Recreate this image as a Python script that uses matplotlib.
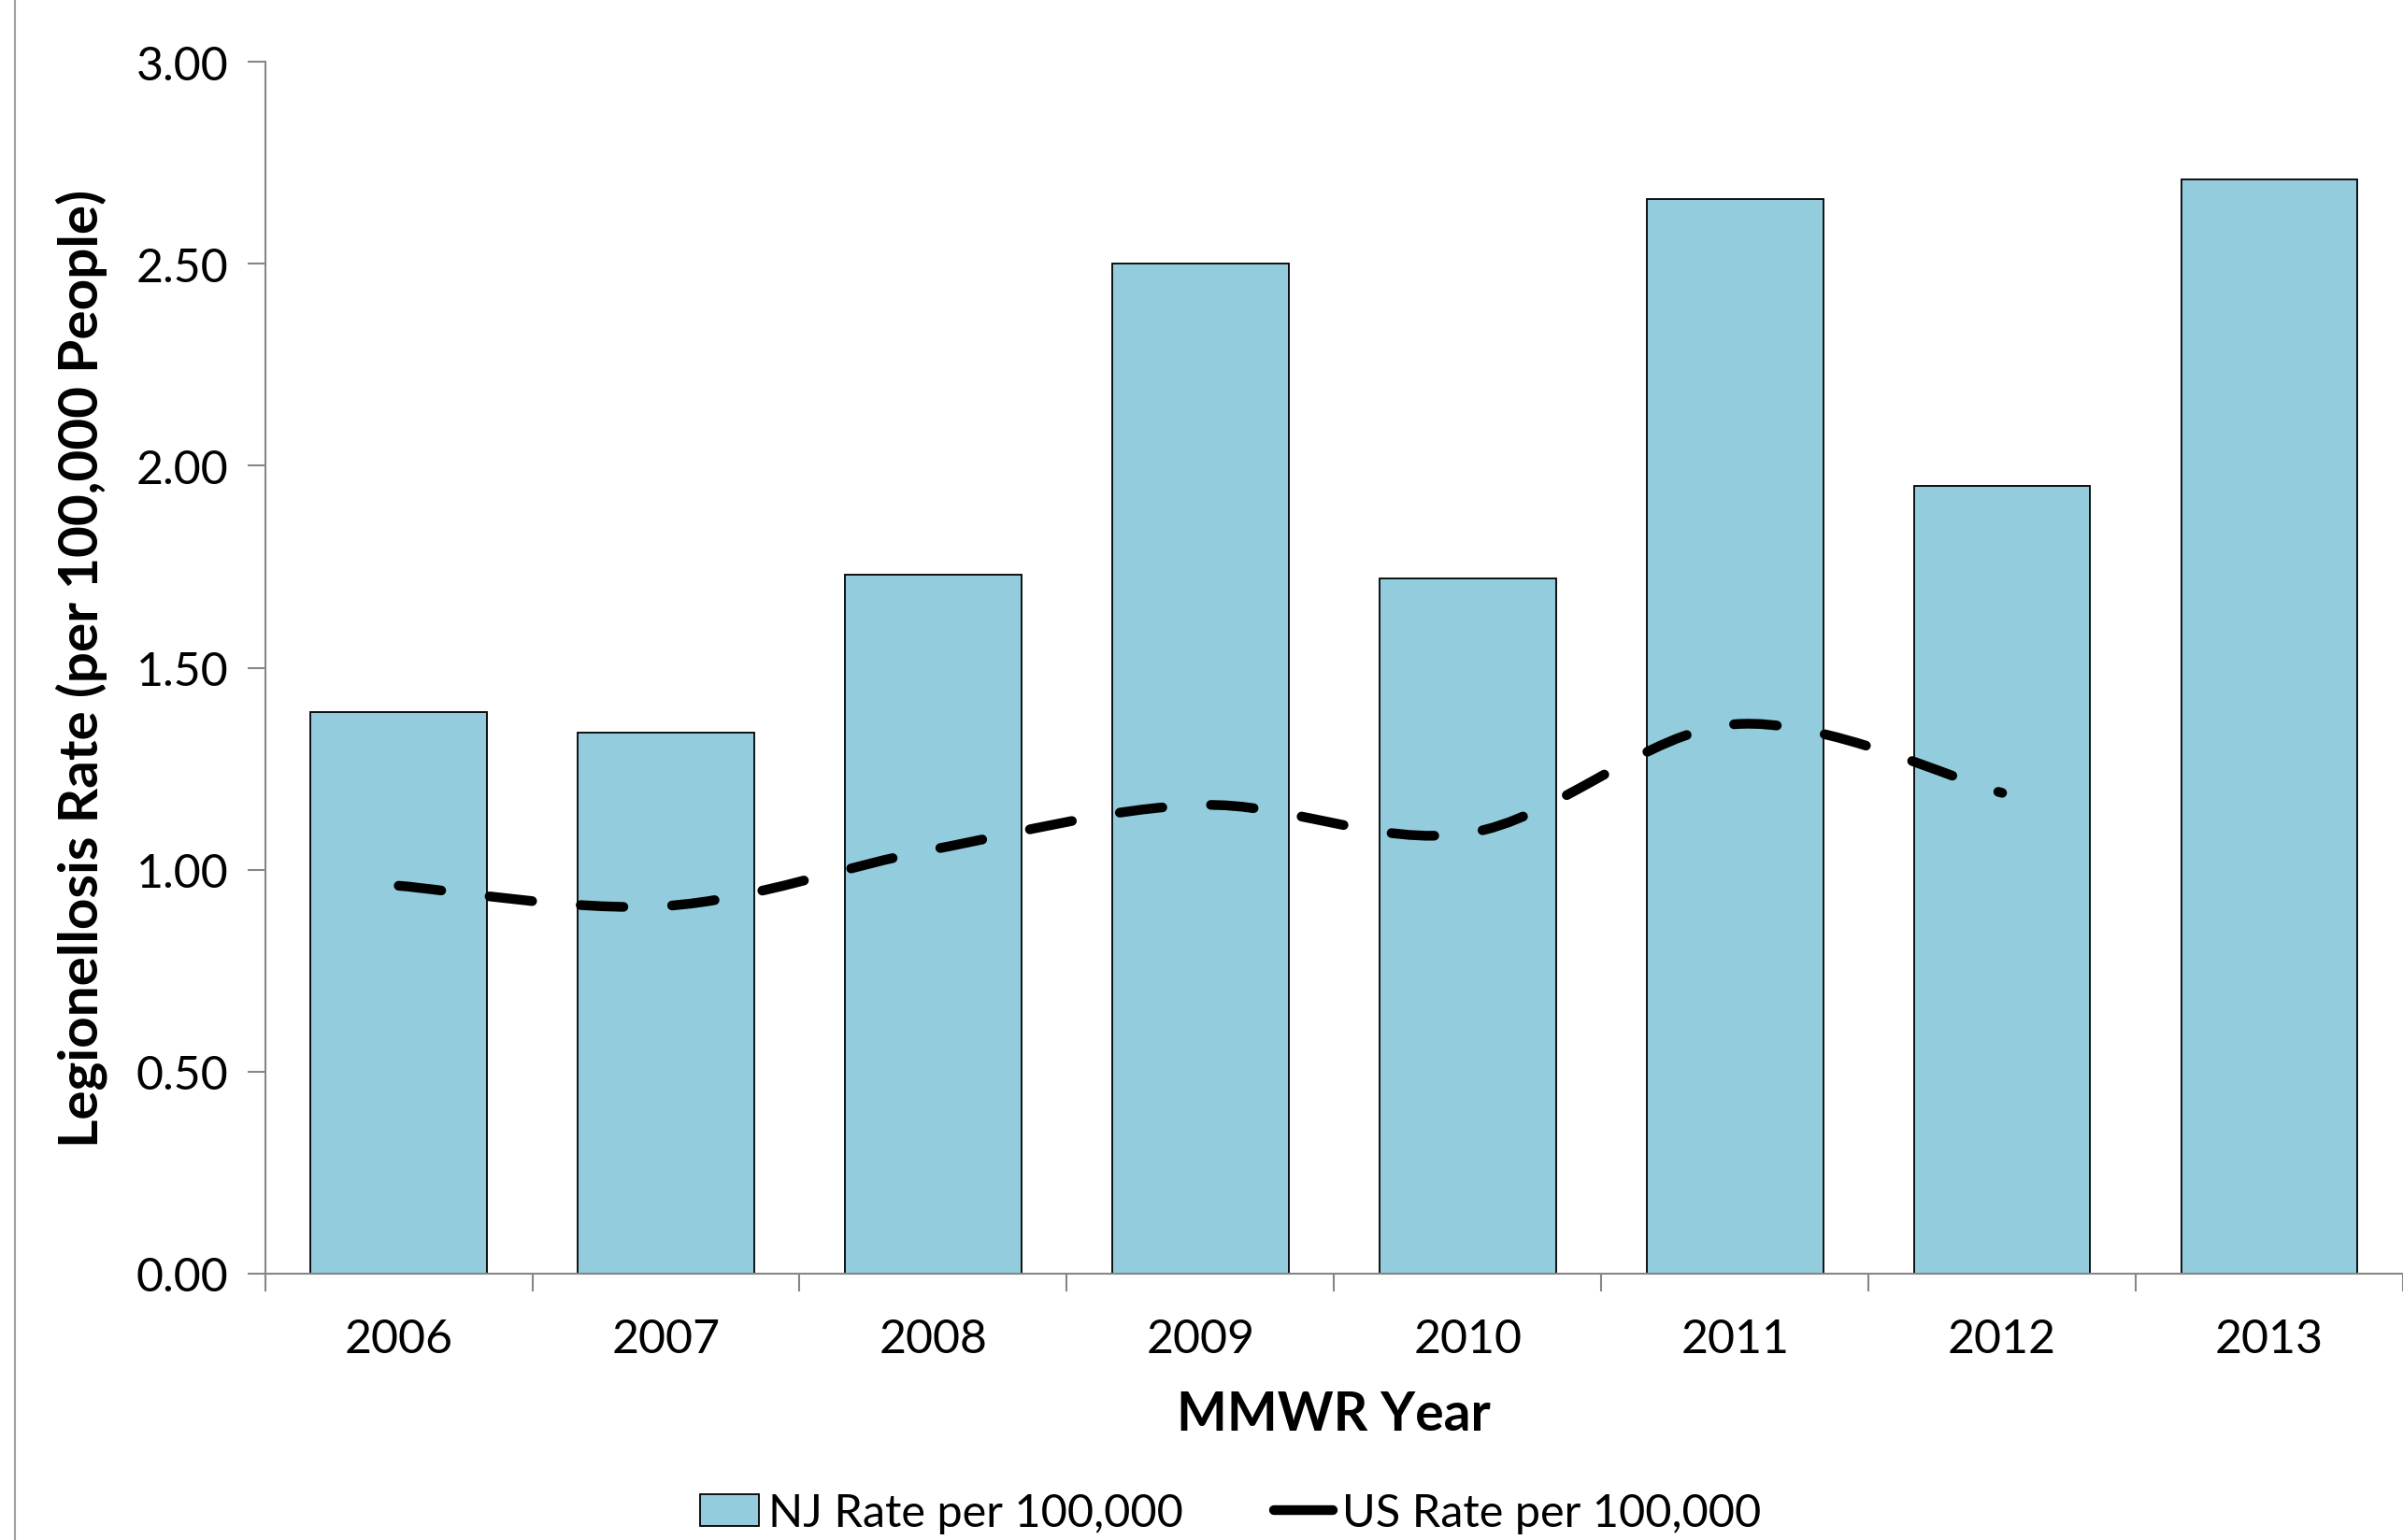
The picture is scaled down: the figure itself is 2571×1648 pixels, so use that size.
import numpy as np
import matplotlib.pyplot as plt
from matplotlib.path import Path
from matplotlib.patches import PathPatch, Patch
from matplotlib.lines import Line2D

plt.rcParams['font.family'] = ['Lato', 'DejaVu Sans']

# Datos
anios = ['2006', '2007', '2008', '2009', '2010', '2011', '2012', '2013']
tasa_nj = [1.39, 1.34, 1.73, 2.50, 1.72, 2.66, 1.95, 2.71]
tasa_us = [0.96, 0.91, 1.05, 1.16, 1.09, 1.36, 1.19]
yticks = [0.0, 0.5, 1.0, 1.5, 2.0, 2.5, 3.0]

color_barra = '#93CDDD'
color_eje = '#868686'


# Curva suavizada tipo Excel (bezier por los puntos de datos)
def camino_suave(x, y):
    pts = np.column_stack((x, y)).astype(float)
    n = len(pts)
    verts = [pts[0]]
    codes = [Path.MOVETO]
    for i in range(n - 1):
        p0 = pts[i - 1] if i > 0 else pts[i]
        p1 = pts[i]
        p2 = pts[i + 1]
        p3 = pts[i + 2] if i + 2 < n else pts[i + 1]
        c1 = p1 + (p2 - p0) / 6.0
        c2 = p2 - (p3 - p1) / 6.0
        verts += [c1, c2, p2]
        codes += [Path.CURVE4] * 3
    return Path(verts, codes)


fig = plt.figure(figsize=(25.71, 16.49), dpi=100)
ax = fig.add_axes([0.1103, 0.173, 0.8897, 0.7862])

x = np.arange(len(anios))
ax.bar(x, tasa_nj, width=0.66, color=color_barra, edgecolor='black', linewidth=1.3, zorder=2)

camino = camino_suave(x[:len(tasa_us)], tasa_us)
linea = PathPatch(camino, facecolor='none', edgecolor='black', linewidth=7.5,
                  linestyle=(0, (4.4, 5.0)), capstyle='round', zorder=3)
ax.add_patch(linea)

ax.set_xlim(-0.5, len(anios) - 0.5)
ax.set_ylim(0, 3.0)
ax.set_yticks(yticks)
ax.set_yticklabels(['%.2f' % v for v in yticks])
ax.set_xticks(x)
ax.set_xticklabels(anios)
ax.set_xticks(np.arange(-0.5, len(anios) - 0.4, 1.0), minor=True)

ax.tick_params(axis='x', which='major', length=0, pad=34, labelsize=36)
ax.tick_params(axis='x', which='minor', length=14, width=1.5, color=color_eje)
ax.tick_params(axis='y', length=14, width=1.5, color=color_eje, pad=14, labelsize=36)

for lado in ['top', 'right']:
    ax.spines[lado].set_visible(False)
for lado in ['left', 'bottom']:
    ax.spines[lado].set_color(color_eje)
    ax.spines[lado].set_linewidth(1.5)

ax.set_ylabel('Legionellosis Rate (per 100,000 People)', fontsize=42, fontweight='bold', labelpad=22)
ax.set_xlabel('MMWR Year', fontsize=41, fontweight='bold', labelpad=22)

# Borde izquierdo del area del grafico
fig.add_artist(Line2D([16 / 2571, 16 / 2571], [0, 1], color='#A0A0A0', linewidth=1.5))

manejadores = [
    Patch(facecolor=color_barra, edgecolor='black', linewidth=1.3),
    Line2D([0], [0], color='black', linewidth=7.5, solid_capstyle='round'),
]
fig.legend(manejadores, ['NJ Rate per 100,000', 'US Rate per 100,000'],
           loc='lower center', bbox_to_anchor=(0.512, -0.022), ncol=2, frameon=False,
           fontsize=35, handlelength=1.3, handletextpad=0.2, columnspacing=2.0)

fig.savefig('out.png', dpi=100)
